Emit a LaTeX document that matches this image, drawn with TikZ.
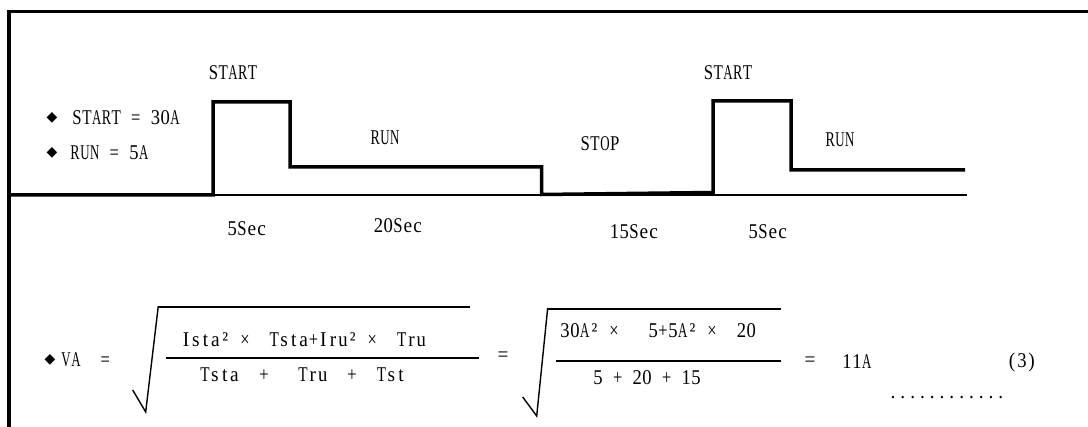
\documentclass[tikz,border=0pt]{standalone}
\usepackage{graphicx}
\usepackage{fontspec}
\newfontfamily\simfont[FakeStretch=0.92]{Liberation Serif}
\newfontfamily\symfont{DejaVu Sans}
\tikzset{>=latex}
\colorlet{wave}{black}
\newlength\cellw \setlength\cellw{9.8pt}
\newlength\glyphmax \setlength\glyphmax{9.3pt}
\newsavebox\glyphbox
% every character in a cell of fixed width, squeezed if too wide
\newcommand\halfwidthcell[1]{\sbox\glyphbox{#1}%
  \ifdim\wd\glyphbox>\glyphmax
    \makebox[\cellw]{\resizebox{\glyphmax}{\height}{#1}}%
  \else
    \makebox[\cellw]{#1}%
  \fi}
\newcommand\halfwidth[1]{\halfwidthloop#1\relax}
\def\halfwidthloop#1{\ifx\relax#1\else\halfwidthcell{#1}\expandafter\halfwidthloop\fi}
\tikzstyle{signal}=[wave,line width=3.5pt,line join=miter]
\tikzstyle{axis}=[black,line width=2pt]
\tikzstyle{txt}=[inner sep=0pt,font=\simfont\fontsize{21}{25}\selectfont]
\tikzstyle{bullet}=[inner sep=0pt,font=\symfont\fontsize{14}{14}\selectfont]

\begin{document}
\begin{tikzpicture}[x=1pt,y=-1pt,
    root/.style={black,line width=1.4pt,line join=miter},
    bar/.style={black,line width=2.6pt}
  ]
  \useasboundingbox (0,0) rectangle (1088,427);

  \def\yb{195}    % zero level
  \def\ys{102}    % start current
  \def\yr{167}    % run current

  % FRAME
  \draw[black,line width=3.4pt] (9,427) -- (9,11.7) -- (1088,11.7);

  % TIME AXIS
  \draw[axis] (11,\yb+0.5) -- (967,\yb+0.5);

  % CURRENT
  \draw[signal] (11,\yb) -- (213,\yb) -- (213,\ys) -- (290,\ys) -- (290,\yr)
    -- (541.5,\yr) -- (541.5,\yb-0.5) -- (713,\yb-2.5) -- (713,\ys-1)
    -- (791,\ys-1) -- (791,\yr+3) -- (965,\yr+3);

  % STATES
  \node[txt] (start1) at (233,73) {\halfwidth{START}};
  \node[txt] (start2) at (728,73) {\halfwidth{START}};
  \node[txt] (run1) at (385,138) {\halfwidth{RUN}};
  \node[txt] (stop) at (600,144) {\halfwidth{STOP}};
  \node[txt] (run2) at (840,140) {\halfwidth{RUN}};

  % TIMES
  \node[txt] (t1) at (247,229) {\halfwidth{5Sec}};
  \node[txt] (t2) at (398,226) {\halfwidth{20Sec}};
  \node[txt] (t3) at (634,232) {\halfwidth{15Sec}};
  \node[txt] (t4) at (768,232) {\halfwidth{5Sec}};

  % LEGEND
  \node[bullet] (b1) at (52,118) {◆};
  \node[txt,anchor=west] (lstart) at (72,118) {\halfwidth{START~=~30A}};
  \node[bullet] (b2) at (52,153) {◆};
  \node[txt,anchor=west] (lrun) at (70,153) {\halfwidth{RUN~=~5A}};

  % FORMULA
  \node[bullet] (b3) at (50,360) {◆};
  \node[txt,anchor=west] (va) at (61,360) {\halfwidth{VA~~=}};
  \draw[root] (132.7,390) -- (145.7,412) -- (158.3,306);
  \draw[bar] (158.3,307) -- (470,307);
  \draw[bar] (166,358) -- (479,358);
  \node[txt,anchor=west] (num1) at (181,340) {\halfwidth{Ista²~×~~Tsta+Iru²~×~~Tru}};
  \node[txt,anchor=west] (den1) at (200,375) {\halfwidth{Tsta~~+~~~Tru~~+~~Tst}};
  \node[txt] (eq1) at (503,357) {=};
  \draw[root] (522.7,397) -- (536.7,416) -- (547.7,308);
  \draw[bar] (547.7,309) -- (781,309);
  \draw[bar] (556,361) -- (781,361);
  \node[txt,anchor=west] (num2) at (560,331) {\halfwidth{30A²~×~~~5+5A²~×~~20}};
  \node[txt,anchor=west] (den2) at (593,378) {\halfwidth{5~+~20~+~15}};
  \node[txt] (eq2) at (810,362) {=};
  \node[txt,anchor=west] (res) at (842,362) {\halfwidth{11A}};
  \node[txt,anchor=west] (eqno) at (1007,362) {\halfwidth{(3)}};
  \node[txt,anchor=west] (dots) at (888,398) {\halfwidth{............}};
\end{tikzpicture}
\end{document}
